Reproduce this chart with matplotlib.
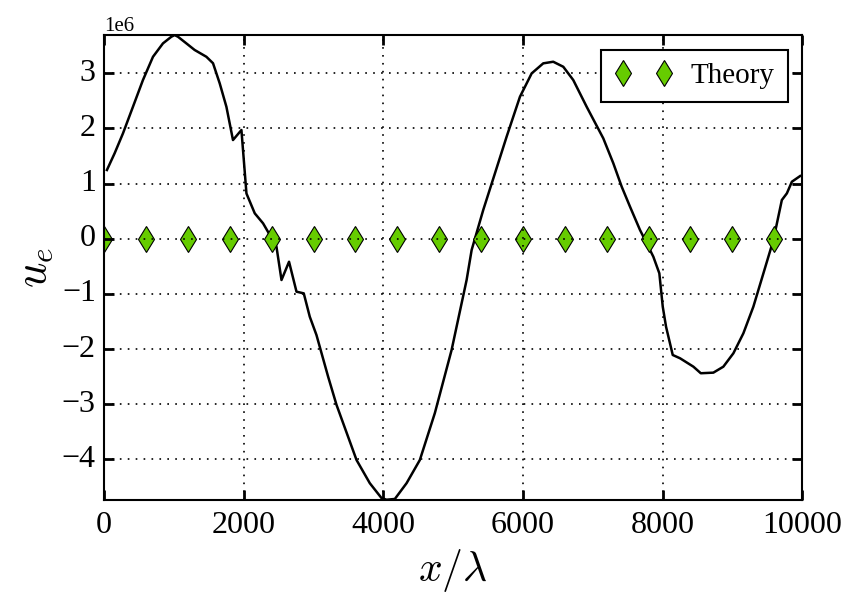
import numpy as np
import matplotlib
matplotlib.use('Agg')
import matplotlib.pyplot as plt

# simulated electron velocity profile
x_sim = [40, 150, 270, 413, 556, 700, 843, 963, 1010, 1058, 1178, 1297, 1465, 1560,
         1656, 1752, 1846, 1967, 2039, 2158, 2277, 2360, 2469, 2541, 2649, 2756,
         2860, 2946, 3042, 3209, 3329, 3616, 3806, 3974, 4046, 4165, 4333, 4523,
         4738, 4978, 5193, 5265, 5431, 5599, 5766, 5957, 6125, 6291, 6434, 6578,
         6721, 6913, 7151, 7295, 7415, 7534, 7677, 7773, 7868, 7954, 8003, 8050,
         8146, 8251, 8442, 8548, 8728, 8871, 9015, 9158, 9301, 9445, 9588, 9709,
         9781, 9853, 9971]
u_sim = [1.245, 1.547, 1.909, 2.391, 2.875, 3.297, 3.54, 3.66, 3.69, 3.66, 3.54,
         3.42, 3.297, 3.18, 2.815, 2.39, 1.788, 1.97, 0.82, 0.46, 0.279, 0.098,
         -0.145, -0.748, -0.417, -0.96, -0.99, -1.413, -1.745, -2.5, -3.01, -4.01,
         -4.43, -4.70, -4.73, -4.716, -4.43, -4.01, -3.16, -2.016, -0.748, -0.205,
         0.52, 1.185, 1.848, 2.572, 2.996, 3.178, 3.207, 3.116, 2.875, 2.391, 1.819,
         1.366, 0.942, 0.58, 0.158, -0.083, -0.326, -0.627, -1.232, -1.594, -2.107,
         -2.167, -2.319, -2.438, -2.427, -2.319, -2.076, -1.714, -1.232, -0.627,
         -0.024, 0.701, 0.822, 1.033, 1.136]

# theory points
x_theory = [0, 600, 1200, 1800, 2400, 3000, 3600, 4200, 4800, 5400, 6000, 6600,
            7200, 7800, 8400, 9000, 9600]
u_theory = [0] * len(x_theory)

plt.style.use('classic')
plt.rcParams['font.family'] = 'serif'
plt.rcParams['font.serif'] = ['Liberation Serif', 'DejaVu Serif']
plt.rcParams['mathtext.fontset'] = 'cm'
plt.rcParams['figure.facecolor'] = 'white'
plt.rcParams['savefig.facecolor'] = 'white'
plt.rcParams['axes.linewidth'] = 1.5
plt.rcParams['xtick.major.size'] = 7
plt.rcParams['ytick.major.size'] = 7
plt.rcParams['xtick.major.width'] = 2
plt.rcParams['ytick.major.width'] = 2
plt.rcParams['xtick.major.pad'] = 8
plt.rcParams['ytick.major.pad'] = 6

fig = plt.figure(figsize=(8.57, 6.05), dpi=100)
ax = fig.add_axes([0.1215, 0.174, 0.8145, 0.768])

u = np.array(u_sim) * 1e6
ax.plot(x_sim, u, color='black', linewidth=1.8)
ax.plot(x_theory, u_theory, linestyle='none', marker='d', markersize=13,
        markerfacecolor='#66cc00', markeredgecolor='black', markeredgewidth=0.8,
        label='Theory')

ax.set_xlim(0, 10000)
ax.set_ylim(u.min(), u.max())
ax.set_xticks([0, 2000, 4000, 6000, 8000, 10000])
ax.set_yticks(np.arange(-4, 4) * 1e6)
ax.ticklabel_format(axis='y', style='sci', scilimits=(0, 0))
ax.tick_params(labelsize=23)
ax.yaxis.get_offset_text().set_fontsize(15)
ax.grid(True, color='black', linestyle=(0, (1.2, 4.5)), linewidth=1.2)

ax.set_xlabel(r'$x/\lambda$', fontsize=30)
ax.set_ylabel(r'$u_e$', fontsize=32)

leg = ax.legend(loc='upper right', numpoints=2, fontsize=21, frameon=True,
                borderpad=0.45, handletextpad=0.6)
leg.get_frame().set_linewidth(1.5)

fig.savefig('out.png', dpi=100)
